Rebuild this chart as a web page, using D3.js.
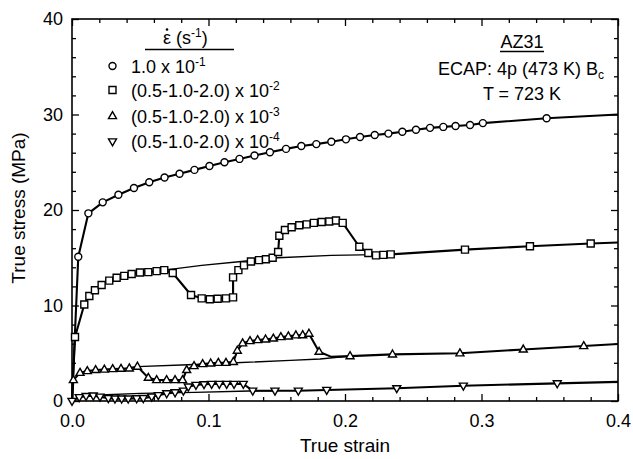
<!DOCTYPE html>
<html><head><meta charset="utf-8">
<script src="https://cdn.jsdelivr.net/npm/d3@7"></script>
<style>
html,body{margin:0;padding:0;background:#fff;}
svg text{font-family:"Liberation Sans",Arial,sans-serif;fill:#000;}
</style></head>
<body><svg id="c" width="633" height="459"></svg>
<script>
// ---- data ----
const xTicks = [0.0, 0.1, 0.2, 0.3, 0.4];
const xTickLabels = ["0.0", "0.1", "0.2", "0.3", "0.4"];
const yTicks = [0, 10, 20, 30, 40];
const yTickLabels = ["0", "10", "20", "30", "40"];

// 1.0 x 10^-1 (circles)
const circStrain = [0.0046,0.012,0.0225,0.034,0.0454,0.0566,0.0678,0.0788,0.0897,0.1007,0.1117,0.1227,0.1337,0.145,0.1568,0.168,0.179,0.19,0.2007,0.211,0.2218,0.2318,0.242,0.252,0.2623,0.272,0.281,0.2916,0.301,0.3477];
const circStress = [15.1,19.65,20.8,21.6,22.3,22.9,23.4,23.8,24.2,24.6,25.0,25.35,25.7,26.05,26.4,26.7,26.9,27.15,27.4,27.64,27.85,28.0,28.2,28.4,28.6,28.7,28.8,28.9,29.1,29.6];
const circExtraStrain = [0.0, 0.4];
const circExtraStress = [0.0, 30.0];

// (0.5-1.0-2.0) x 10^-2 (squares)
const sqStrain = [0.0022,0.009,0.0127,0.0168,0.0217,0.0273,0.0327,0.0383,0.0437,0.0498,0.0559,0.062,0.0676,0.0738,0.0872,0.095,0.101,0.1067,0.1128,0.118,0.118,0.1219,0.126,0.1311,0.137,0.1421,0.147,0.151,0.1519,0.156,0.1609,0.1665,0.1719,0.1772,0.1829,0.1885,0.1934,0.1983,0.2105,0.2171,0.2227,0.2281,0.2335,0.2879,0.3355,0.380];
const sqStress = [6.7,10.1,11.0,11.6,12.15,12.6,12.9,13.1,13.3,13.45,13.5,13.6,13.7,13.4,11.1,10.75,10.65,10.7,10.75,10.85,12.95,13.7,14.2,14.6,14.75,14.85,15.0,15.6,17.3,17.9,18.2,18.4,18.5,18.65,18.75,18.8,18.9,18.65,16.15,15.5,15.25,15.3,15.35,15.85,16.2,16.5];
const sqExtraStrain = [0.0, 0.4];
const sqExtraStress = [0.0, 16.6];
const sqRefStrain = [0.0676,0.095,0.124,0.151,0.19,0.2335];
const sqRefStress = [13.7,14.2,14.6,15.0,15.25,15.35];

// (0.5-1.0-2.0) x 10^-3 (triangles)
const triStrain = [0.001,0.0059,0.0112,0.0173,0.0237,0.0298,0.0359,0.042,0.0479,0.0559,0.062,0.0693,0.0755,0.081,0.084,0.0894,0.0957,0.1016,0.1072,0.1128,0.1182,0.1211,0.125,0.1304,0.136,0.1418,0.1475,0.153,0.1585,0.164,0.169,0.1736,0.181,0.2037,0.2348,0.2842,0.3306,0.3749];
const triStress = [2.2,2.96,3.14,3.25,3.3,3.35,3.38,3.42,3.6,2.44,2.2,2.2,2.2,2.2,3.25,3.66,3.87,3.94,4.0,4.0,4.1,5.27,6.04,6.28,6.39,6.45,6.55,6.7,6.77,6.88,6.9,7.05,5.16,4.7,4.88,5.0,5.4,5.76];
const triExtraStrain = [0.0, 0.19, 0.4];
const triExtraStress = [0.0, 4.62, 5.97];
const triRefStrain = [0.0479,0.085,0.12,0.16,0.1817,0.2037];
const triRefStress = [3.6,3.8,4.0,4.25,4.4,4.7];

// (0.5-1.0-2.0) x 10^-4 (inverted triangles)
const invStrain = [0.0,0.0053,0.0103,0.0156,0.0205,0.0266,0.0315,0.0364,0.0412,0.0474,0.0522,0.0584,0.0632,0.0694,0.0755,0.0816,0.0852,0.0908,0.0967,0.1023,0.1079,0.1133,0.1187,0.1255,0.1324,0.1487,0.1658,0.1866,0.2379,0.2867,0.3555];
const invStress = [0.0,0.4,0.52,0.56,0.45,0.3,0.25,0.25,0.25,0.28,0.3,0.45,0.6,0.8,0.9,1.08,1.5,1.68,1.75,1.78,1.78,1.78,1.78,1.78,1.08,1.08,1.08,1.15,1.33,1.6,1.85];
const invExtraStrain = [0.4];
const invExtraStress = [2.0];
const invRefStrain = [0.0156,0.05,0.09,0.13,0.1487];
const invRefStress = [0.6,0.8,0.9,1.05,1.08];

const legendRates = ["1.0 x 10", "(0.5-1.0-2.0) x 10", "(0.5-1.0-2.0) x 10", "(0.5-1.0-2.0) x 10"];
const legendExps = ["-1", "-2", "-3", "-4"];

// ---- drawing ----
const svg = d3.select("#c");
const FONT = '"Liberation Sans",Arial,sans-serif';
const x = d3.scaleLinear().domain([0, 0.4]).range([72, 618]);
const y = d3.scaleLinear().domain([0, 40]).range([401, 19]);

const pts = (xs, ys) => xs.map((v, i) => [v, ys[i]]);
const lineGen = d3.line().x(d => x(d[0])).y(d => y(d[1]));
function fullLine(ms, mt, es, et) {
  const all = pts(ms, mt).concat(pts(es, et));
  return all.slice().sort((a, b) => a[0] - b[0]);
}

// axes
const xMinor = d3.range(0, 0.4001, 0.02).filter(v => Math.abs(v * 10 - Math.round(v * 10)) > 1e-6);
const yMinor = d3.range(0, 40.001, 2).filter(v => v % 10 !== 0);

function styleAxis(g) {
  g.select(".domain").remove();
  g.selectAll("line").attr("stroke", "#000").attr("stroke-width", 1.3);
  g.selectAll("text").attr("font-family", FONT).attr("font-size", 18).attr("fill", "#000");
}
svg.append("g").attr("transform", "translate(0,401)")
  .call(d3.axisBottom(x).tickValues(xTicks).tickFormat((d, i) => xTickLabels[i]).tickSize(-7).tickPadding(13)).call(styleAxis);
svg.append("g").attr("transform", "translate(0,401)")
  .call(d3.axisBottom(x).tickValues(xMinor).tickFormat("").tickSize(-4)).call(styleAxis);
svg.append("g").attr("transform", "translate(0,19)")
  .call(d3.axisTop(x).tickValues(xTicks).tickFormat("").tickSize(-7)).call(styleAxis);
svg.append("g").attr("transform", "translate(0,19)")
  .call(d3.axisTop(x).tickValues(xMinor).tickFormat("").tickSize(-4)).call(styleAxis);
svg.append("g").attr("transform", "translate(72,0)")
  .call(d3.axisLeft(y).tickValues(yTicks).tickFormat((d, i) => yTickLabels[i]).tickSize(-7).tickPadding(9)).call(styleAxis);
svg.append("g").attr("transform", "translate(72,0)")
  .call(d3.axisLeft(y).tickValues(yMinor).tickFormat("").tickSize(-4)).call(styleAxis);
svg.append("g").attr("transform", "translate(618,0)")
  .call(d3.axisRight(y).tickValues(yTicks).tickFormat("").tickSize(-7)).call(styleAxis);
svg.append("g").attr("transform", "translate(618,0)")
  .call(d3.axisRight(y).tickValues(yMinor).tickFormat("").tickSize(-4)).call(styleAxis);

svg.append("rect").attr("x", 72).attr("y", 19).attr("width", 546).attr("height", 382)
  .attr("fill", "none").attr("stroke", "#000").attr("stroke-width", 1.6);

// axis titles
svg.append("text").attr("x", 345).attr("y", 452).attr("text-anchor", "middle")
  .attr("font-size", 19).text("True strain");
svg.append("text").attr("transform", "translate(25,208) rotate(-90)").attr("text-anchor", "middle")
  .attr("font-size", 19).text("True stress (MPa)");

// reference (thin) lines
const refs = [pts(sqRefStrain, sqRefStress), pts(triRefStrain, triRefStress), pts(invRefStrain, invRefStress)];
svg.append("g").selectAll("path").data(refs).join("path")
  .attr("d", lineGen).attr("fill", "none").attr("stroke", "#000").attr("stroke-width", 1.4);

// series lines
const series = [
  {line: fullLine(circStrain, circStress, circExtraStrain, circExtraStress), marks: pts(circStrain, circStress), sym: "circle"},
  {line: fullLine(sqStrain, sqStress, sqExtraStrain, sqExtraStress), marks: pts(sqStrain, sqStress), sym: "square"},
  {line: fullLine(triStrain, triStress, triExtraStrain, triExtraStress), marks: pts(triStrain, triStress), sym: "up"},
  {line: fullLine(invStrain, invStress, invExtraStrain, invExtraStress), marks: pts(invStrain, invStress), sym: "down"}
];
svg.append("g").selectAll("path").data(series).join("path")
  .attr("d", d => lineGen(d.line)).attr("fill", "none").attr("stroke", "#000")
  .attr("stroke-width", 2.1).attr("stroke-linejoin", "round");

const symPath = {
  circle: "M3.5,0A3.5,3.5,0,1,1,-3.5,0A3.5,3.5,0,1,1,3.5,0Z",
  square: "M-3.5,-3.5H3.5V3.5H-3.5Z",
  up: "M0,-4.4L4,2.6L-4,2.6Z",
  down: "M0,4.4L4,-2.6L-4,-2.6Z"
};
function drawMarks(g, sym, data) {
  g.selectAll("path").data(data).join("path")
    .attr("transform", d => `translate(${x(d[0])},${y(d[1])})`)
    .attr("d", symPath[sym]).attr("fill", "#fff").attr("stroke", "#000").attr("stroke-width", 1.4);
}
series.forEach(s => drawMarks(svg.append("g"), s.sym, s.marks));

// legend
const lg = svg.append("g");
const hdr = lg.append("text").attr("x", 163).attr("y", 44).attr("font-size", 18);
hdr.append("tspan").text("\u03B5 (s");
hdr.append("tspan").attr("font-size", 12).attr("dy", -7).text("-1");
hdr.append("tspan").attr("dy", 7).text(")");
const epsBox = hdr.node().getExtentOfChar(0);
lg.append("circle").attr("cx", epsBox.x + epsBox.width / 2).attr("cy", 44 - 14.5).attr("r", 1.3).attr("fill", "#000");
lg.append("line").attr("x1", 145).attr("x2", 234).attr("y1", 49.5).attr("y2", 49.5)
  .attr("stroke", "#000").attr("stroke-width", 1.4);
const legY = [66, 90, 116, 141.5];
const syms = ["circle", "square", "up", "down"];
legY.forEach((ly, i) => {
  lg.append("path").attr("transform", `translate(112.5,${ly})`).attr("d", symPath[syms[i]])
    .attr("fill", "#fff").attr("stroke", "#000").attr("stroke-width", 1.4);
  const t = lg.append("text").attr("x", 131).attr("y", ly + 6.5).attr("font-size", 18);
  t.append("tspan").text(legendRates[i]);
  t.append("tspan").attr("font-size", 12).attr("dy", -7).text(legendExps[i]);
});

// annotation
const an = svg.append("g");
an.append("text").attr("x", 522).attr("y", 48).attr("text-anchor", "middle").attr("font-size", 18).text("AZ31");
an.append("line").attr("x1", 500).attr("x2", 544).attr("y1", 51.5).attr("y2", 51.5).attr("stroke", "#000").attr("stroke-width", 1.3);
const ec = an.append("text").attr("x", 438).attr("y", 75).attr("font-size", 18);
ec.append("tspan").text("ECAP: 4p (473 K) B");
ec.append("tspan").attr("font-size", 12).attr("dy", 4).text("c");
an.append("text").attr("x", 522).attr("y", 100).attr("text-anchor", "middle").attr("font-size", 18).text("T = 723 K");
</script></body></html>
